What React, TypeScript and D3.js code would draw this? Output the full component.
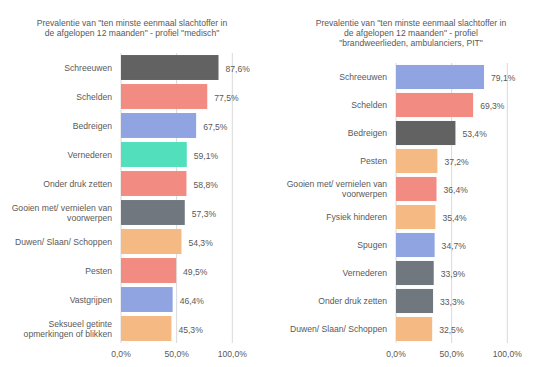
import React from 'react'
import * as d3 from 'd3'

const GREY = '#626262'
const SALMON = '#f28b81'
const BLUE = '#8fa4e1'
const TEAL = '#52dfbb'
const SLATE = '#70777e'
const ORANGE = '#f5b983'

// left panel: profiel "medisch"
const medCats = [
  'Schreeuwen', 'Schelden', 'Bedreigen', 'Vernederen', 'Onder druk zetten',
  'Gooien met/ vernielen van|voorwerpen', 'Duwen/ Slaan/ Schoppen', 'Pesten',
  'Vastgrijpen', 'Seksueel getinte|opmerkingen of blikken',
]
const medValues = [87.6, 77.5, 67.5, 59.1, 58.8, 57.3, 54.3, 49.5, 46.4, 45.3]
const medColors = [GREY, SALMON, BLUE, TEAL, SALMON, SLATE, ORANGE, SALMON, BLUE, ORANGE]
const medTitle = [
  'Prevalentie van "ten minste eenmaal slachtoffer in',
  'de afgelopen 12 maanden" - profiel "medisch"',
]

// right panel: brandweer / ambulance / PIT
const bwCats = [
  'Schreeuwen', 'Schelden', 'Bedreigen', 'Pesten', 'Gooien met/ vernielen van|voorwerpen',
  'Fysiek hinderen', 'Spugen', 'Vernederen', 'Onder druk zetten', 'Duwen/ Slaan/ Schoppen',
]
const bwValues = [79.1, 69.3, 53.4, 37.2, 36.4, 35.4, 34.7, 33.9, 33.3, 32.5]
const bwColors = [BLUE, SALMON, GREY, ORANGE, SALMON, ORANGE, BLUE, SLATE, SLATE, ORANGE]
const bwTitle = [
  'Prevalentie van "ten minste eenmaal slachtoffer in',
  'de afgelopen 12 maanden" - profiel',
  '"brandweerlieden, ambulanciers, PIT"',
]

const xTicks = [0, 50, 100]
const fmt = (v: number) => v.toFixed(1).replace('.', ',') + '%'

const FONT = 'Liberation Sans, Arial, sans-serif'
const TXT = '#595959'

interface PanelProps {
  cats: string[]
  values: number[]
  colors: string[]
  title: string[]
  x0: number
  x1: number
  top: number
  bottom: number
  titleX: number
  titleY: number
}

const Panel: React.FC<PanelProps> = ({ cats, values, colors, title, x0, x1, top, bottom, titleX, titleY }) => {
  const x = d3.scaleLinear().domain([0, 100]).range([x0, x1])
  const y = d3.scaleBand<string>().domain(cats).range([top, bottom]).paddingInner(0.14).paddingOuter(0.07)
  return (
    <g fontFamily={FONT} fill={TXT}>
      {title.map((t, i) => (
        <text key={i} x={titleX} y={titleY + i * 10} textAnchor="middle" fontSize={8.6} dy="0.35em">{t}</text>
      ))}
      {xTicks.map(t => (
        <g key={t}>
          <line x1={x(t)} x2={x(t)} y1={top} y2={bottom} stroke="#d9d9d9" strokeWidth={1} />
          <text x={x(t)} y={bottom + 11} textAnchor="middle" fontSize={8.6} dy="0.35em">{fmt(t)}</text>
        </g>
      ))}
      {cats.map((c, i) => {
        const yy = y(c)!
        const h = y.bandwidth()
        const lines = c.split('|')
        return (
          <g key={c}>
            <rect x={x(0)} y={yy} width={x(values[i]) - x(0)} height={h} fill={colors[i]} />
            <text x={x(values[i]) + 7} y={yy + h / 2 + 1} fontSize={8.6} dy="0.35em">{fmt(values[i])}</text>
            {lines.map((l, j) => (
              <text key={j} x={x0 - 9} y={yy + h / 2 + (j - (lines.length - 1) / 2) * 10} textAnchor="end" fontSize={8.6} dy="0.35em">{l}</text>
            ))}
          </g>
        )
      })}
    </g>
  )
}

export default function App() {
  return (
    <svg width={533} height={367} style={{ position: 'absolute', left: 0, top: 0, background: '#fff' }}>
      <rect width={533} height={367} fill="#fff" />
      <Panel cats={medCats} values={medValues} colors={medColors} title={medTitle}
        x0={121} x1={232.3} top={53} bottom={343} titleX={132} titleY={23} />
      <Panel cats={bwCats} values={bwValues} colors={bwColors} title={bwTitle}
        x0={396} x1={507.3} top={63} bottom={343} titleX={411} titleY={23} />
    </svg>
  )
}
